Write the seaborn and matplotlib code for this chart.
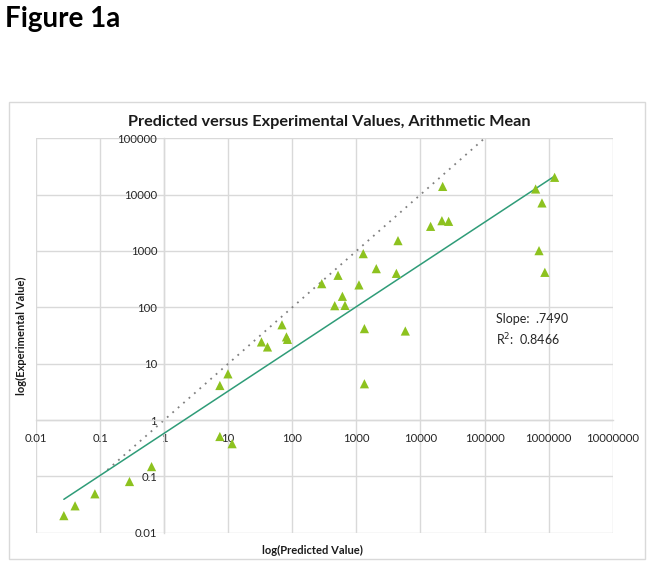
"""Predicted vs experimental values (log-log scatter), Excel-style chart."""

import numpy as np
import matplotlib
matplotlib.use("Agg")
import matplotlib.pyplot as plt
from matplotlib.patches import Rectangle
from matplotlib.ticker import FixedLocator, NullLocator
import seaborn as sns

# data
predicted = [0.0272, 0.0407, 0.083, 0.288, 0.636, 7.4, 9.9, 7.4, 11.5, 33, 41, 69,
             81, 84, 288, 459, 517, 605, 664, 1097, 1280, 2045, 1334, 1334, 4210,
             4460, 5800, 14400, 22200, 21600, 27500, 627000, 787000, 708000,
             873000, 1240000]
experimental = [0.0201, 0.030, 0.049, 0.081, 0.149, 4.1, 6.6, 0.51, 0.38, 24.3,
                19.8, 49, 29.9, 27, 263, 107, 370, 157, 108, 250, 897, 486, 41.9,
                4.4, 401, 1527, 38, 2737, 14000, 3450, 3360, 12600, 7130, 1014,
                418, 20300]

x_ticks = [0.01, 0.1, 1, 10, 100, 1000, 10000, 100000, 1000000, 10000000]
x_tick_labels = ["0.01", "0.1", "1", "10", "100", "1000", "10000", "100000",
                 "1000000", "10000000"]
y_ticks = [0.01, 0.1, 1, 10, 100, 1000, 10000, 100000]
y_tick_labels = ["0.01", "0.1", "1", "10", "100", "1000", "10000", "100000"]

# power trendline (log10 space) and identity line range
trend_slope = 0.749
trend_intercept = -0.235
identity_range = [0.13, 100000]

W, H = 654, 567

sns.set_theme(style="white")
plt.rcParams["font.family"] = ["Lato", "DejaVu Sans"]

fig = plt.figure(figsize=(W / 100, H / 100), dpi=100)


def px(x, y):
    """pixel position (from top-left) -> figure fraction"""
    return x / W, 1 - y / H


# plot area: 36..613 px wide, 138..533 px tall
ax = fig.add_axes([36 / W, 1 - 532.7 / H, (612.7 - 36) / W, (532.7 - 138.3) / H])
ax.set_xscale("log")
ax.set_yscale("log")
ax.set_xlim(0.01, 10000000)
ax.set_ylim(0.01, 100000)

grid_color = "#d9d9d9"
ax.grid(True, which="major", color=grid_color, linewidth=1.0)
for side in ["top", "right"]:
    ax.spines[side].set_visible(False)
for side in ["left", "bottom"]:
    ax.spines[side].set_color(grid_color)
    ax.spines[side].set_linewidth(1.0)
    ax.spines[side].set_position(("data", 1))

ax.xaxis.set_major_locator(FixedLocator(x_ticks))
ax.xaxis.set_minor_locator(NullLocator())
ax.set_xticklabels(x_tick_labels)
ax.yaxis.set_major_locator(FixedLocator(y_ticks))
ax.yaxis.set_minor_locator(NullLocator())
ax.set_yticklabels(y_tick_labels)
ax.tick_params(axis="x", length=0, pad=9, labelsize=8.2, labelcolor="#262626")
ax.tick_params(axis="y", length=0, pad=5, labelsize=8.2, labelcolor="#262626")

# identity line (dotted)
ax.plot(identity_range, identity_range, color="#7f7f7f", linewidth=1.3,
        linestyle=(0, (1, 3)), zorder=2)

# power trendline between the smallest and largest predicted value
x_fit = np.array([min(predicted), max(predicted)])
y_fit = 10 ** trend_intercept * x_fit ** trend_slope
sns.lineplot(x=x_fit, y=y_fit, ax=ax, color="#2f9c78", linewidth=1.1, zorder=3)

sns.scatterplot(x=predicted, y=experimental, ax=ax, marker="^", s=44,
                color="#8dc21f", edgecolor="none", zorder=4)

ax.set_xlabel("")
ax.set_ylabel("")

# annotation with fit statistics
ax.text(*px(496, 319), "Slope:  .7490", transform=fig.transFigure, fontsize=9.0,
        color="#262626", va="center", ha="left")
ax.text(*px(496, 340), "R$^2$:  0.8466", transform=fig.transFigure, fontsize=9.0,
        color="#262626", va="center", ha="left")

# titles and labels
fig.text(*px(329, 122), "Predicted versus Experimental Values, Arithmetic Mean",
         fontsize=11.7, fontweight="bold", ha="center", va="center", color="#1a1a1a")
fig.text(*px(312, 550), "log(Predicted Value)", fontsize=8, fontweight="bold",
         ha="center", va="center", color="#1a1a1a")
fig.text(*px(21.5, 336), "log(Experimental Value)", fontsize=8, fontweight="bold",
         ha="center", va="center", rotation=90, color="#1a1a1a")
fig.text(*px(5, 19), "Figure 1a", fontsize=20, fontweight="bold", ha="left",
         va="center", color="black")

# light chart border
fig.patches.append(Rectangle(px(9, 559), 636 / W, 457 / H, transform=fig.transFigure,
                             fill=False, edgecolor=grid_color, linewidth=1.0))

fig.savefig("out.png", dpi=100)
plt.close(fig)
